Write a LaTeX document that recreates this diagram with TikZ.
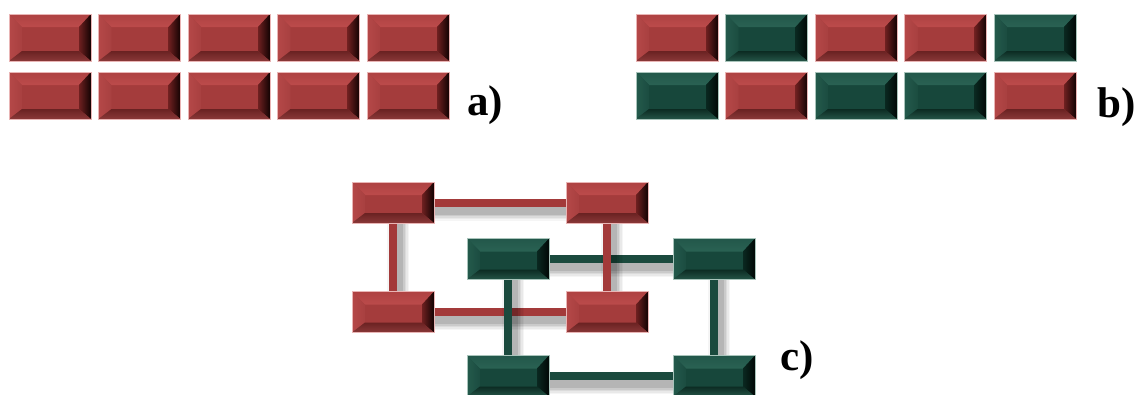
\documentclass[tikz,border=0pt]{standalone}
\usepackage{fontspec}
\setmainfont{Liberation Serif}
\usetikzlibrary{calc}
\definecolor{rface}{HTML}{A43C3C}
\definecolor{rt1}{HTML}{AE4242}
\definecolor{rt2}{HTML}{E57878}
\definecolor{rt3}{HTML}{BC4B4B}
\definecolor{rl1}{HTML}{B54848}
\definecolor{rl2}{HTML}{A84040}
\definecolor{rr1}{HTML}{6E2020}
\definecolor{rr2}{HTML}{120202}
\definecolor{rb1}{HTML}{6A2222}
\definecolor{rb2}{HTML}{3E1010}
\definecolor{rb3}{HTML}{8A3838}
\definecolor{redge}{HTML}{E9B5B5}
\definecolor{rline}{HTML}{A33A3A}
\definecolor{gface}{HTML}{17473B}
\definecolor{gt1}{HTML}{22574A}
\definecolor{gt2}{HTML}{609686}
\definecolor{gt3}{HTML}{2A6253}
\definecolor{gl1}{HTML}{245A4C}
\definecolor{gl2}{HTML}{1B4C40}
\definecolor{gr1}{HTML}{0A2820}
\definecolor{gr2}{HTML}{010806}
\definecolor{gb1}{HTML}{0C2B22}
\definecolor{gb2}{HTML}{051610}
\definecolor{gb3}{HTML}{245447}
\definecolor{gedge}{HTML}{A9C4BB}
\definecolor{gline}{HTML}{1B4A3E}
\newcommand\bevelfill[1]{%
  \path (path picture bounding box.north west) coordinate (NW)
        (path picture bounding box.north east) coordinate (NE)
        (path picture bounding box.south west) coordinate (SW)
        (path picture bounding box.south east) coordinate (SE);
  \path ($(NW)+(13,13)$) coordinate (nw) ($(NE)+(-12,13)$) coordinate (ne)
        ($(SW)+(13,-10)$) coordinate (sw) ($(SE)+(-12,-10)$) coordinate (se);
  \fill[#1face] (NW) rectangle (SE);
  \shade[top color=#1t1, middle color=#1t2, bottom color=#1t3] (NW) -- (NE) -- (ne) -- (nw) -- cycle;
  \shade[left color=#1l1, right color=#1l2] (NW) -- (nw) -- (sw) -- (SW) -- cycle;
  \shade[left color=#1r1, right color=#1r2] (NE) -- (ne) -- (se) -- (SE) -- cycle;
  \shade[top color=#1b1, middle color=#1b2, bottom color=#1b3] (SW) -- (sw) -- (se) -- (SE) -- cycle;
}
\tikzset{
  x=1pt, y=-1pt,
  brick/.style={rectangle, inner sep=0pt, minimum width=82pt, minimum height=47pt, line width=0.8pt},
  nbrick/.style={brick, minimum height=41pt},
  rb/.style={draw=redge, path picture={\bevelfill{r}}},
  gb/.style={draw=gedge, path picture={\bevelfill{g}}},
  lshadow/.style={
    preaction={draw=black, opacity=0.04, line width=22pt, transform canvas={shift={(5pt,-7pt)}}},
    preaction={draw=black, opacity=0.05, line width=19pt, transform canvas={shift={(5pt,-7pt)}}},
    preaction={draw=black, opacity=0.06, line width=16pt, transform canvas={shift={(5pt,-7pt)}}},
    preaction={draw=black, opacity=0.08, line width=13pt, transform canvas={shift={(5pt,-7pt)}}},
    preaction={draw=black, opacity=0.10, line width=10pt, transform canvas={shift={(5pt,-7pt)}}}},
  rlink/.style={lshadow, draw=rline, line width=8pt},
  glink/.style={lshadow, draw=gline, line width=8pt},
  lbl/.style={font=\fontsize{43}{47}\selectfont\bfseries, inner sep=0pt, anchor=base west},
}
\begin{document}
\begin{tikzpicture}
\useasboundingbox (0,0) rectangle (1137,394);
\clip (0,0) rectangle (1137,394);
% a)
\foreach \i in {0,...,4} {
  \node[brick, rb] (a1\i) at ({50+89.5*\i},37.5) {};
  \node[brick, rb] (a2\i) at ({50+89.5*\i},95.5) {};
}
\node[lbl] (la) at (467,115) {a)};
% b)
\foreach \i/\s in {0/rb,1/gb,2/rb,3/rb,4/gb} {
  \node[brick, \s] (b1\i) at ({677+89.5*\i},37.5) {};
}
\foreach \i/\s in {0/gb,1/rb,2/gb,3/gb,4/rb} {
  \node[brick, \s] (b2\i) at ({677+89.5*\i},95.5) {};
}
\node[lbl] (lb) at (1097,117) {b)};
% c) network
\coordinate (rtl) at (393,202.5);
\coordinate (rtr) at (607,202.5);
\coordinate (rbl) at (393,312);
\coordinate (rbr) at (607,312);
\coordinate (gtl) at (508,259);
\coordinate (gtr) at (714,259);
\coordinate (gbl) at (508,376);
\coordinate (gbr) at (714,376);
\draw[rlink] (rtl) -- (rtr);
\draw[rlink] (rbl) -- (rbr);
\draw[glink] (gtl) -- (gtr);
\draw[glink] (gbl) -- (gbr);
\draw[glink] (gtl) -- (gbl);
\draw[glink] (gtr) -- (gbr);
\draw[rlink] (rtl) -- (rbl);
\draw[rlink] (rtr) -- (rbr);
\node[nbrick, rb] (n1) at (rtl) {};
\node[nbrick, rb] (n2) at (rtr) {};
\node[nbrick, rb] (n3) at (rbl) {};
\node[nbrick, rb] (n4) at (rbr) {};
\node[nbrick, gb] (n5) at (gtl) {};
\node[nbrick, gb] (n6) at (gtr) {};
\node[nbrick, gb] (n7) at (gbl) {};
\node[nbrick, gb] (n8) at (gbr) {};
\node[lbl] (lc) at (780,370) {c)};
\end{tikzpicture}
\end{document}
